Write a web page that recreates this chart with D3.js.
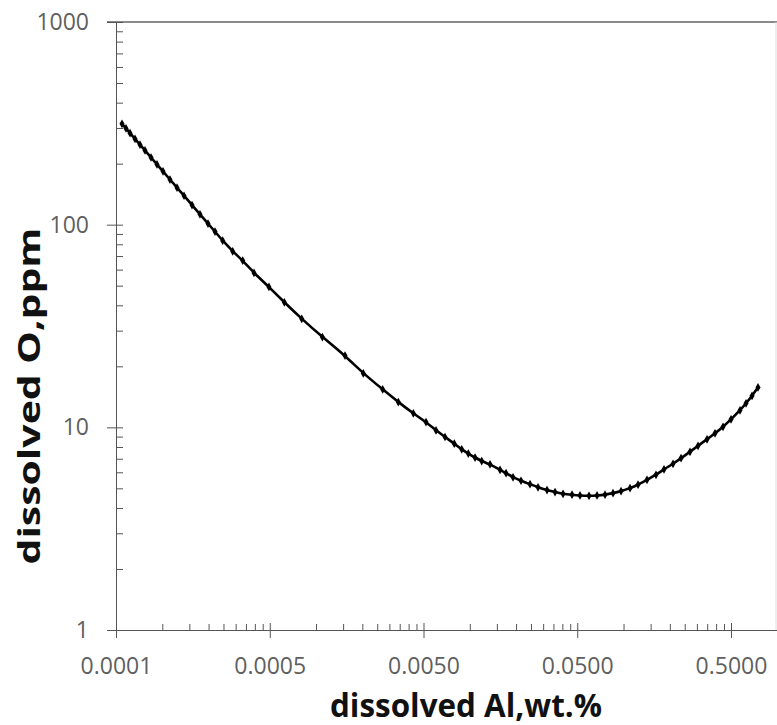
<!DOCTYPE html>
<html>
<head>
<meta charset="utf-8">
<script src="https://cdn.jsdelivr.net/npm/d3@7"></script>
<style>
  body { margin: 0; background: #fff; }
  svg { display: block; font-family: "Open Sans", sans-serif; }
</style>
</head>
<body>
<div id="chart"></div>
<script>
// dissolved Al (wt.%) vs dissolved O (ppm)
const alPct = [
  0.0000547, 0.0000581, 0.0000617, 0.0000665, 0.0000716, 0.0000772, 0.0000845, 0.0000924,
  0.0001011, 0.0001122, 0.0001247, 0.0001385, 0.0001561, 0.0001759, 0.0001983, 0.0002203,
  0.0002472, 0.000287, 0.0003335, 0.000395, 0.000494, 0.000622, 0.000807, 0.001099,
  0.001543, 0.00203, 0.002714, 0.003428, 0.004293, 0.00519, 0.00603, 0.0069,
  0.00793, 0.00886, 0.00978, 0.01082, 0.01196, 0.01354, 0.01573, 0.01721,
  0.01911, 0.02154, 0.02464, 0.02778, 0.03179, 0.03584, 0.04041, 0.04623,
  0.05211, 0.05963, 0.06723, 0.07578, 0.08542, 0.0963, 0.1102, 0.1242,
  0.1421, 0.1626, 0.1833, 0.2098, 0.2365, 0.2706, 0.3051, 0.3491,
  0.3935, 0.4436, 0.5, 0.5723, 0.626, 0.6849, 0.7493
];
const oPpm = [
  314.5, 298.5, 282.9, 265.0, 248.1, 232.3, 214.5, 198.2,
  183.3, 167.0, 152.3, 138.9, 125.0, 112.5, 101.2, 92.4,
  83.4, 73.9, 66.5, 57.8, 49.3, 41.4, 34.3, 27.9,
  22.6, 18.45, 15.39, 13.32, 11.72, 10.62, 9.66, 8.96,
  8.31, 7.79, 7.42, 7.09, 6.82, 6.57, 6.17, 5.94,
  5.67, 5.45, 5.24, 5.06, 4.90, 4.79, 4.70, 4.65,
  4.61, 4.59, 4.61, 4.65, 4.73, 4.84, 5.01, 5.21,
  5.51, 5.83, 6.21, 6.61, 7.04, 7.57, 8.11, 8.73,
  9.34, 10.06, 10.95, 12.13, 13.13, 14.30, 15.74
];

const xTicks = [0.00005, 0.0005, 0.005, 0.05, 0.5];
const xTickLabels = ["0.0001", "0.0005", "0.0050", "0.0500", "0.5000"];
const yTicks = [1, 10, 100, 1000];
const yTickLabels = ["1", "10", "100", "1000"];
const xTitle = "dissolved Al,wt.%";
const yTitle = "dissolved O,ppm";

const data = alPct.map((a, i) => ({ al: a, o: oPpm[i] }));

const W = 777, H = 725;
const plot = { left: 116, right: 777.3, top: 22, bottom: 630 };

const svg = d3.select("#chart").append("svg")
  .attr("width", W)
  .attr("height", H);

const x = d3.scaleLog().domain([0.00005, 1]).range([plot.left, plot.right]);
const y = d3.scaleLog().domain([1, 1000]).range([plot.bottom, plot.top]);

// minor ticks: 2..9 in each decade
const xMinor = [];
xTicks.forEach(b => { for (let k = 2; k <= 9; k++) if (b * k < 1) xMinor.push(b * k); });
const yMinor = [];
[1, 10, 100].forEach(b => { for (let k = 2; k <= 9; k++) yMinor.push(b * k); });

const axisColor = "#555";
const labelColor = "#5f5f5f";

// frame: top and faint right border
svg.append("line")
  .attr("x1", 107).attr("x2", W)
  .attr("y1", plot.top).attr("y2", plot.top)
  .attr("stroke", "#8a8a8a").attr("stroke-width", 2);
svg.append("line")
  .attr("x1", W - 1).attr("x2", W - 1)
  .attr("y1", plot.top).attr("y2", plot.bottom)
  .attr("stroke", "#dedede").attr("stroke-width", 1);

function styleAxis(g) {
  g.select(".domain").remove();
  g.selectAll(".tick line").attr("stroke", axisColor);
  g.selectAll(".tick text")
    .attr("fill", labelColor)
    .style("font-family", "'Open Sans', sans-serif")
    .style("font-size", "23px");
}

// x axis
svg.append("g")
  .attr("transform", `translate(0,${plot.bottom})`)
  .call(d3.axisBottom(x).tickValues(xMinor).tickSize(-6).tickFormat(""))
  .call(styleAxis);
svg.append("g")
  .attr("transform", `translate(0,${plot.bottom})`)
  .call(d3.axisBottom(x).tickValues(xTicks).tickSize(-7).tickFormat(""))
  .call(styleAxis);
svg.append("g")
  .attr("transform", `translate(0,${plot.bottom})`)
  .call(d3.axisBottom(x).tickValues(xTicks).tickSize(8).tickPadding(20)
    .tickFormat((d, i) => xTickLabels[i]))
  .call(styleAxis);

svg.append("line")
  .attr("x1", 107).attr("x2", W)
  .attr("y1", plot.bottom + 0.5).attr("y2", plot.bottom + 0.5)
  .attr("stroke", axisColor);

// y axis
svg.append("g")
  .attr("transform", `translate(${plot.left},0)`)
  .call(d3.axisLeft(y).tickValues(yMinor.concat(yTicks)).tickSize(-7).tickFormat(""))
  .call(styleAxis);
svg.append("g")
  .attr("transform", `translate(${plot.left},0)`)
  .call(d3.axisLeft(y).tickValues(yTicks).tickSize(9).tickPadding(18)
    .tickFormat((d, i) => yTickLabels[i]))
  .call(styleAxis);

svg.append("line")
  .attr("x1", plot.left + 0.5).attr("x2", plot.left + 0.5)
  .attr("y1", plot.top).attr("y2", plot.bottom + 8)
  .attr("stroke", axisColor);

// curve
const line = d3.line()
  .x(d => x(d.al))
  .y(d => y(d.o))
  .curve(d3.curveBasis);

svg.append("path")
  .datum(data)
  .attr("fill", "none")
  .attr("stroke", "#000")
  .attr("stroke-width", 2.6)
  .attr("stroke-linecap", "round")
  .attr("d", line);

svg.selectAll("path.marker")
  .data(data)
  .enter()
  .append("path")
  .attr("class", "marker")
  .attr("transform", d => `translate(${x(d.al)},${y(d.o)})`)
  .attr("d", d3.symbol().type(d3.symbolDiamond).size(22))
  .attr("fill", "#000");

// axis titles
svg.append("text")
  .attr("x", 466)
  .attr("y", 717)
  .attr("text-anchor", "middle")
  .attr("textLength", 272)
  .attr("lengthAdjust", "spacingAndGlyphs")
  .style("font-size", "32px")
  .style("font-weight", "bold")
  .attr("fill", "#111")
  .text(xTitle);

svg.append("text")
  .attr("transform", "translate(40,396) rotate(-90)")
  .attr("text-anchor", "middle")
  .attr("textLength", 337)
  .attr("lengthAdjust", "spacingAndGlyphs")
  .style("font-size", "31px")
  .style("font-weight", "bold")
  .attr("fill", "#111")
  .text(yTitle);
</script>
</body>
</html>
